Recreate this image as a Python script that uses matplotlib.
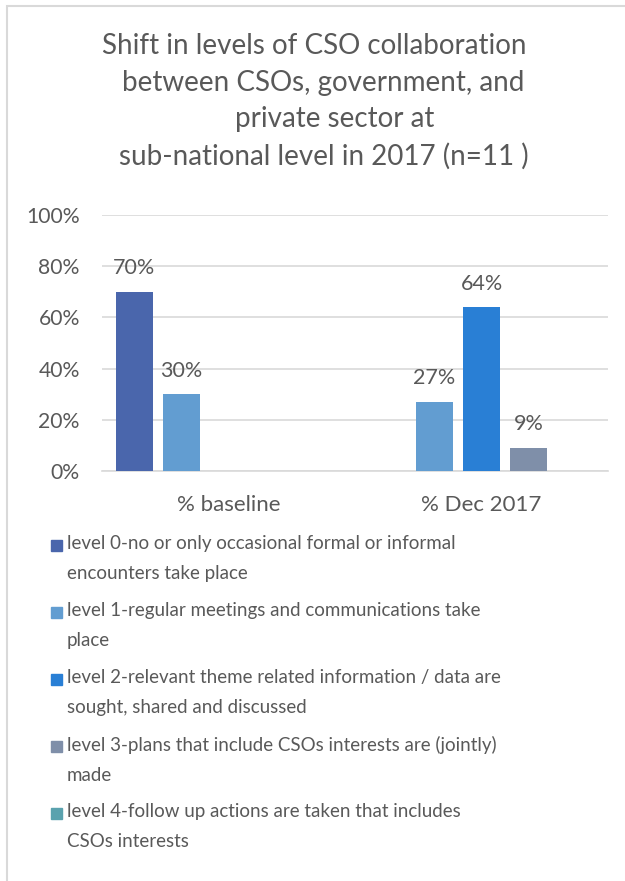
import numpy as np
import matplotlib
matplotlib.use("Agg")
import matplotlib.pyplot as plt
from matplotlib.patches import Rectangle

plt.rcParams['font.family'] = ['Lato', 'DejaVu Sans']

categories = ['% baseline', '% Dec 2017']
levels = [
    'level 0-no or only occasional formal or informal\nencounters take place',
    'level 1-regular meetings and communications take\nplace',
    'level 2-relevant theme related information / data are\nsought, shared and discussed',
    'level 3-plans that include CSOs interests are (jointly)\nmade',
    'level 4-follow up actions are taken that includes\nCSOs interests',
]
level0 = [0.70, 0.00]
level1 = [0.30, 0.27]
level2 = [0.00, 0.64]
level3 = [0.00, 0.09]
level4 = [0.00, 0.00]
colors = ['#4A66AC', '#629DD1', '#297FD5', '#7F8FA9', '#5AA2AE']
title_lines = ['Shift in levels of CSO collaboration',
               'between CSOs, government, and',
               'private sector at',
               'sub-national level in 2017 (n=11 )']
title_x = [314, 323, 335, 324]

grey = '#595959'
W, H = 625, 881
fig = plt.figure(figsize=(W / 100, H / 100), dpi=100)
ax = fig.add_axes([102 / W, 1 - 471 / H, 506 / W, 256 / H])

x = np.arange(len(categories))
step = 0.186
width = 0.146
series = [level0, level1, level2, level3, level4]
for i, vals in enumerate(series):
    pos = x + (i - 2) * step
    for p, v in zip(pos, vals):
        if v <= 0:
            continue
        ax.bar(p, v, width, color=colors[i], zorder=3)
        ax.annotate('{:.0f}%'.format(v * 100), (p, v), xytext=(0, 17),
                    textcoords='offset points', ha='center', va='center',
                    fontsize=15.5, color=grey)

ax.set_xlim(-0.5, 1.5)
ax.set_ylim(0, 1)
ax.set_yticks(np.arange(0, 1.01, 0.2))
ax.set_yticklabels(['{:.0f}%'.format(t * 100) for t in np.arange(0, 1.01, 0.2)])
ax.set_xticks(x)
ax.set_xticklabels(categories)
ax.tick_params(length=0, labelcolor=grey)
ax.tick_params(axis='y', pad=16, labelsize=15.2)
ax.tick_params(axis='x', pad=17, labelsize=16)
ax.yaxis.grid(True, color='#D9D9D9', lw=1.2, zorder=0)
for s in ax.spines.values():
    s.set_visible(False)
ax.spines['bottom'].set_visible(True)
ax.spines['bottom'].set_color('#D9D9D9')
ax.spines['bottom'].set_linewidth(1.2)

# title, one line at a time
for k, line in enumerate(title_lines):
    fig.text(title_x[k] / W, 1 - (46 + 36.7 * k) / H, line, ha='center',
             va='center', fontsize=20, color=grey)

# legend with the swatch next to the first line of each entry
for i, lab in enumerate(levels):
    y0 = 545 + 67 * i
    fig.patches.append(Rectangle((51 / W, 1 - (y0 + 5.5) / H), 11 / W, 11 / H,
                                 transform=fig.transFigure, color=colors[i]))
    fig.text(67 / W, 1 - (y0 - 10) / H, lab, ha='left', va='top',
             fontsize=13.5, color=grey, linespacing=1.9)

fig.patches.append(Rectangle((7 / W, -0.1), 1.2, 1.1 - 6 / H,
                             transform=fig.transFigure, fill=False,
                             edgecolor='#D9D9D9', lw=1.5))

fig.savefig('out.png', dpi=100)
